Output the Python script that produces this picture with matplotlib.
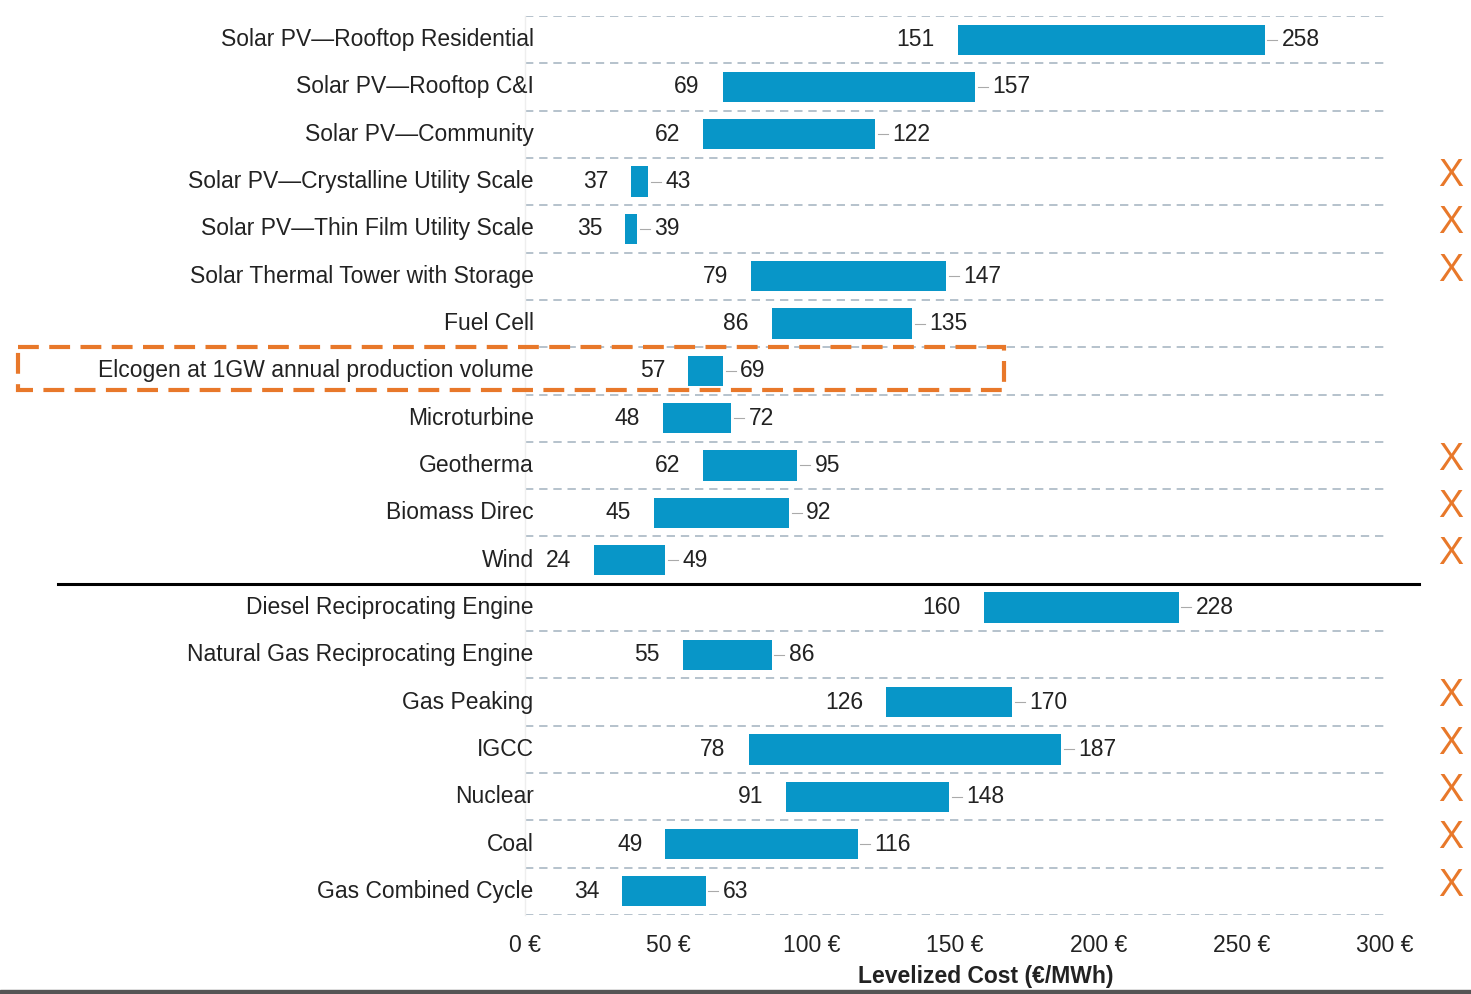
import numpy as np
import matplotlib.pyplot as plt
from matplotlib.patches import Rectangle

plt.rcParams['font.family'] = ['Liberation Sans', 'DejaVu Sans']

# LCOE ranges (EUR/MWh), top to bottom
technologies = [
    'Solar PV\u2014Rooftop Residential',
    'Solar PV\u2014Rooftop C&I',
    'Solar PV\u2014Community',
    'Solar PV\u2014Crystalline Utility Scale',
    'Solar PV\u2014Thin Film Utility Scale',
    'Solar Thermal Tower with Storage',
    'Fuel Cell',
    'Elcogen at 1GW annual production volume',
    'Microturbine',
    'Geotherma',
    'Biomass Direc',
    'Wind',
    'Diesel Reciprocating Engine',
    'Natural Gas Reciprocating Engine',
    'Gas Peaking',
    'IGCC',
    'Nuclear',
    'Coal',
    'Gas Combined Cycle',
]
low_cost = [151, 69, 62, 37, 35, 79, 86, 57, 48, 62, 45, 24, 160, 55, 126, 78, 91, 49, 34]
high_cost = [258, 157, 122, 43, 39, 147, 135, 69, 72, 95, 92, 49, 228, 86, 170, 187, 148, 116, 63]
crossed_out = ['Solar PV\u2014Crystalline Utility Scale', 'Solar PV\u2014Thin Film Utility Scale',
               'Solar Thermal Tower with Storage', 'Geotherma', 'Biomass Direc', 'Wind',
               'Gas Peaking', 'IGCC', 'Nuclear', 'Coal', 'Gas Combined Cycle']
highlighted = 'Elcogen at 1GW annual production volume'
n_alternative = 12
x_ticks = [0, 50, 100, 150, 200, 250, 300]

bar_color = '#0896c8'
orange = '#e8782a'
text_color = '#222222'
fs = 16.5

fig = plt.figure(figsize=(14.71, 9.94), dpi=100, facecolor='white')
ax = fig.add_axes([0.3569, 0.0795, 0.5846, 0.9044])

y = np.arange(len(technologies))
low = np.array(low_cost)
high = np.array(high_cost)

ax.barh(y, high - low, left=low, height=0.64, color=bar_color, zorder=3)

# Row separators
for b in np.arange(-0.5, len(technologies), 1):
    if b == n_alternative - 0.5:
        continue
    ax.plot([0, 300], [b, b], color='#a9b7c3', lw=1.2, dashes=(5, 3.5), zorder=1)

# Value and category labels
for i in y:
    ax.text(low[i] - 8, i, str(low[i]), ha='right', va='center', fontsize=fs, color=text_color)
    ax.plot([high[i] + 1, high[i] + 4.5], [i, i], color='#aaaaaa', lw=0.8, zorder=2)
    ax.text(high[i] + 6, i, str(high[i]), ha='left', va='center', fontsize=fs, color=text_color)
    ax.text(3, i, technologies[i], ha='right', va='center', fontsize=fs, color=text_color)
    if technologies[i] in crossed_out:
        ax.text(323, i - 0.12, 'X', ha='center', va='center', fontsize=27, color=orange,
                family=['Liberation Sans Narrow', 'Liberation Sans'])

# Separator between groups
ax.plot([-163, 312], [n_alternative - 0.5] * 2, color='black', lw=2.2, clip_on=False, zorder=4)

# Highlight box
hi = technologies.index(highlighted)
ax.add_patch(Rectangle((-177, hi - 0.5), 344, 0.91, fill=False, edgecolor=orange, lw=3,
                       linestyle=(0, (5, 2.5)), clip_on=False, zorder=5))

ax.set_xlim(0, 300)
ax.set_ylim(len(technologies) - 0.5, -0.5)
ax.set_xticks(x_ticks)
ax.set_xticklabels([f'{v} \u20ac' for v in x_ticks], fontsize=fs, color=text_color)
ax.set_yticks([])
ax.tick_params(axis='x', length=0, pad=14)
for s in ['top', 'right', 'bottom']:
    ax.spines[s].set_visible(False)
ax.spines['left'].set_color('#eeeeee')
ax.spines['left'].set_linewidth(1)

fig.text(986 / 1471, 17 / 994, 'Levelized Cost (\u20ac/MWh)', ha='center', va='center',
         fontsize=fs, fontweight='bold', color=text_color)
fig.add_artist(Rectangle((0, 0), 1, 4 / 994, transform=fig.transFigure, color='#555555', zorder=10))

fig.savefig('out.png', dpi=100)
